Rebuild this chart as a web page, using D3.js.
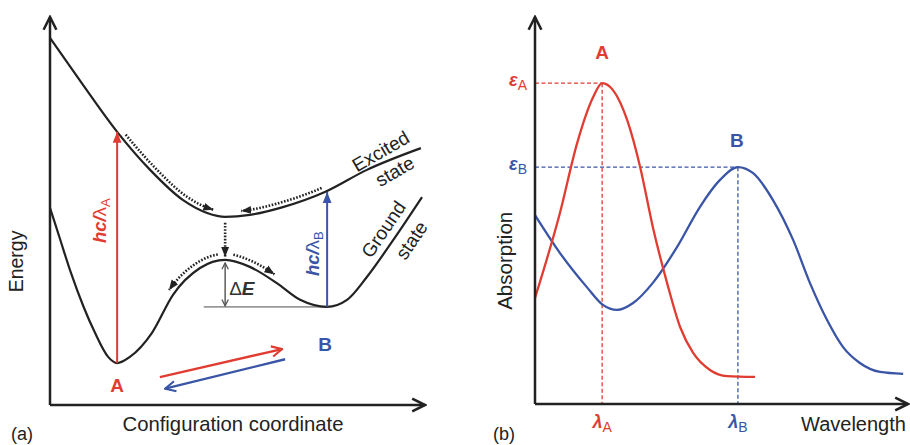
<!DOCTYPE html>
<html>
<head>
<meta charset="utf-8">
<script src="https://cdn.jsdelivr.net/npm/d3@7"></script>
<style>
  body { margin: 0; background: #fff; }
  svg { display: block; font-family: "Liberation Sans", Arial, sans-serif; }
</style>
</head>
<body>
<div id="chart"></div>
<script>
// panel (a): configuration coordinate (x) vs energy (y), arbitrary 0-10 units
const excitedX = [0, 0.88, 1.79, 2.67, 3.55, 4.19, 4.67, 5.33, 6.21, 7.33, 8.45, 9.89];
const excitedY = [9.46, 8.25, 7.04, 6.06, 5.28, 4.95, 4.85, 4.90, 5.10, 5.49, 6.06, 6.62];
const groundX = [0, 0.25, 0.55, 0.9, 1.2, 1.55, 1.79, 2.13, 2.72, 3.28, 4.0, 4.67, 5.33, 6.05, 6.67, 7.39, 7.92, 8.45, 9.15, 9.92];
const groundY = [5.08, 4.33, 3.43, 2.52, 1.86, 1.24, 1.08, 1.24, 1.86, 2.84, 3.53, 3.74, 3.56, 3.14, 2.71, 2.53, 2.71, 3.30, 4.25, 5.36];
// well minima / barrier top
const minA = {x: 1.79, y: 1.08, top: 7.04};
const minB = {x: 7.39, y: 2.53, top: 5.49};
const barrier = {x: 4.67, y: 3.74, excited: 4.85, baseStart: 4.1};

// panel (b): wavelength (x) vs absorption (y), arbitrary 0-10 units
const bandAX = [0, 0.67, 1.13, 1.56, 1.80, 2.09, 2.47, 2.82, 3.16, 3.54, 3.89, 4.24, 4.69, 5.15, 5.90];
const bandAY = [2.74, 4.94, 6.74, 7.93, 8.29, 8.11, 7.34, 6.12, 4.57, 3.13, 1.99, 1.32, 0.88, 0.72, 0.70];
const bandBX = [0, 0.67, 1.39, 1.82, 2.20, 2.63, 3.16, 3.81, 4.42, 4.96, 5.44, 5.84, 6.38, 6.92, 7.37, 7.83, 8.26, 8.71, 9.25, 9.87];
const bandBY = [4.88, 3.90, 3.02, 2.56, 2.43, 2.61, 3.13, 4.06, 5.09, 5.79, 6.12, 5.97, 5.27, 4.24, 3.13, 2.17, 1.47, 1.06, 0.83, 0.78];
const peakA = {x: 1.80, y: 8.29};
const peakB = {x: 5.44, y: 6.12};

const RED = "#e03c31";
const BLUE = "#3a55a6";
const INK = "#222";

const svg = d3.select("#chart").append("svg")
  .attr("width", 910).attr("height", 445);
svg.append("rect").attr("width", 910).attr("height", 445).attr("fill", "#fff");

const defs = svg.append("defs");
function marker(id, color, size, open) {
  const m = defs.append("marker").attr("id", id)
    .attr("viewBox", "0 0 10 10").attr("refX", open ? 9 : 10).attr("refY", 5)
    .attr("markerWidth", size).attr("markerHeight", size)
    .attr("markerUnits", "userSpaceOnUse")
    .attr("orient", "auto-start-reverse");
  if (open) {
    m.append("path").attr("d", "M1,1L9,5L1,9").attr("fill", "none")
      .attr("stroke", color).attr("stroke-width", 1.6).attr("stroke-linejoin", "miter");
  } else {
    m.append("path").attr("d", "M0,1L10,5L0,9z").attr("fill", color);
  }
}
marker("axisHead", INK, 16, true);
marker("redHead", RED, 11, false);
marker("blueHead", BLUE, 11, false);
marker("redChev", RED, 13, true);
marker("blueChev", BLUE, 13, true);
marker("dotHead", INK, 10, false);
marker("grayHead", "#555", 8, true);

const zip = (xs, ys) => xs.map((x, i) => [x, ys[i]]);

// ---------- panel (a) ----------
const xa = d3.scaleLinear().domain([0, 10]).range([50, 425]);
const ya = d3.scaleLinear().domain([0, 10]).range([405, 17]);
const lineA = d3.line().x(d => xa(d[0])).y(d => ya(d[1])).curve(d3.curveMonotoneX);

const ga = svg.append("g");

// axes
ga.append("path").attr("d", `M${xa(0)},${ya(0)}V${ya(10)}`)
  .attr("stroke", INK).attr("stroke-width", 2.5).attr("fill", "none").attr("marker-end", "url(#axisHead)");
ga.append("path").attr("d", `M${xa(0)},${ya(0)}H${xa(10)}`)
  .attr("stroke", INK).attr("stroke-width", 2.5).attr("fill", "none").attr("marker-end", "url(#axisHead)");

// baseline at B minimum
ga.append("line").attr("x1", xa(barrier.baseStart)).attr("x2", xa(minB.x))
  .attr("y1", ya(minB.y)).attr("y2", ya(minB.y))
  .attr("stroke", "#999").attr("stroke-width", 1.8);

const excitedPath = ga.append("path").attr("d", lineA(zip(excitedX, excitedY)))
  .attr("fill", "none").attr("stroke", INK).attr("stroke-width", 2.2);
const groundPath = ga.append("path").attr("d", lineA(zip(groundX, groundY)))
  .attr("fill", "none").attr("stroke", INK).attr("stroke-width", 2.2);

// points along a drawn curve, pushed off it by `off` px on the upper side
function alongCurve(node, x0, x1, off) {
  const L = node.getTotalLength();
  const raw = [];
  for (let s = 0; s <= L; s += 1.5) raw.push(node.getPointAtLength(s));
  const lo = Math.min(x0, x1), hi = Math.max(x0, x1);
  const pts = [];
  for (let i = 1; i < raw.length - 1; i++) {
    const p = raw[i];
    if (p.x < lo || p.x > hi) continue;
    let dx = raw[i + 1].x - raw[i - 1].x, dy = raw[i + 1].y - raw[i - 1].y;
    const n = Math.hypot(dx, dy) || 1;
    let nx = dy / n, ny = -dx / n;
    if (ny > 0) { nx = -nx; ny = -ny; }
    pts.push([p.x + nx * off, p.y + ny * off]);
  }
  if (x0 > x1) pts.reverse();
  return pts;
}
const plain = d3.line().curve(d3.curveLinear);
function dotted(points) {
  ga.append("path").attr("d", plain(points)).attr("fill", "none")
    .attr("stroke", INK).attr("stroke-width", 2.6).attr("stroke-dasharray", "1.6,1.6")
    .attr("marker-end", "url(#dotHead)");
}
dotted(alongCurve(excitedPath.node(), xa(1.9), xa(4.35), 5));
dotted(alongCurve(excitedPath.node(), xa(7.33), xa(5.1), 5));
dotted([[xa(barrier.x), ya(barrier.excited) + 6], [xa(barrier.x), ya(barrier.y) - 3]]);
dotted(alongCurve(groundPath.node(), xa(4.5), xa(3.3), 6));
dotted(alongCurve(groundPath.node(), xa(4.85), xa(5.9), 6));

// ΔE
ga.append("line").attr("x1", xa(barrier.x)).attr("x2", xa(barrier.x))
  .attr("y1", ya(barrier.y) + 3).attr("y2", ya(minB.y) - 1)
  .attr("stroke", "#444").attr("stroke-width", 1.3)
  .attr("marker-start", "url(#grayHead)").attr("marker-end", "url(#grayHead)");
const dE = ga.append("text").attr("x", xa(barrier.x) + 4).attr("y", ya(3.0) + 6)
  .attr("font-size", 19).attr("fill", "#333");
dE.append("tspan").text("Δ");
dE.append("tspan").attr("font-weight", "bold").attr("font-style", "italic").text("E");

// vertical excitation arrows
ga.append("line").attr("x1", xa(minA.x)).attr("x2", xa(minA.x))
  .attr("y1", ya(minA.y)).attr("y2", ya(minA.top))
  .attr("stroke", RED).attr("stroke-width", 2).attr("marker-end", "url(#redHead)");
ga.append("line").attr("x1", xa(minB.x)).attr("x2", xa(minB.x))
  .attr("y1", ya(minB.y)).attr("y2", ya(minB.top))
  .attr("stroke", BLUE).attr("stroke-width", 2).attr("marker-end", "url(#blueHead)");

function hcLabel(x, y, color, sub) {
  const t = ga.append("text").attr("transform", `translate(${x},${y}) rotate(-90)`)
    .attr("text-anchor", "middle").attr("fill", color).attr("font-size", 18.5);
  t.append("tspan").attr("font-weight", "bold").attr("font-style", "italic").text("hc/");
  t.append("tspan").text("λ");
  t.append("tspan").attr("font-size", 13).attr("dy", 4).text(sub);
}
hcLabel(xa(minA.x) - 11, ya(4.75), RED, "A");
hcLabel(xa(minB.x) - 8, ya(3.9), BLUE, "B");

// conversion arrows A <-> B
ga.append("line").attr("x1", xa(2.93)).attr("y1", ya(0.72)).attr("x2", xa(6.19)).attr("y2", ya(1.44))
  .attr("stroke", RED).attr("stroke-width", 2.4).attr("marker-end", "url(#redChev)");
ga.append("line").attr("x1", xa(6.27)).attr("y1", ya(1.18)).attr("x2", xa(3.07)).attr("y2", ya(0.42))
  .attr("stroke", BLUE).attr("stroke-width", 2.4).attr("marker-end", "url(#blueChev)");

ga.append("text").attr("x", xa(minA.x)).attr("y", ya(minA.y) + 29).attr("text-anchor", "middle")
  .attr("fill", RED).attr("font-weight", "bold").attr("font-size", 19).text("A");
ga.append("text").attr("x", xa(minB.x) - 2).attr("y", ya(minB.y) + 44).attr("text-anchor", "middle")
  .attr("fill", BLUE).attr("font-weight", "bold").attr("font-size", 19).text("B");

function rotLabel(x, y, ang, txt) {
  ga.append("text").attr("transform", `translate(${x},${y}) rotate(${ang})`)
    .attr("text-anchor", "middle").attr("fill", INK).attr("font-size", 19).text(txt);
}
rotLabel(384, 157, -30, "Excited");
rotLabel(398, 177, -30, "state");
rotLabel(389, 233, -56, "Ground");
rotLabel(417, 244, -56, "state");

ga.append("text").attr("transform", `translate(23,${ya(3.7)}) rotate(-90)`)
  .attr("text-anchor", "middle").attr("fill", INK).attr("font-size", 19.5).text("Energy");
ga.append("text").attr("x", 233).attr("y", 431).attr("text-anchor", "middle")
  .attr("fill", INK).attr("font-size", 20.3).text("Configuration coordinate");
ga.append("text").attr("x", 11).attr("y", 440).attr("fill", INK).attr("font-size", 18).text("(a)");

// ---------- panel (b) ----------
const xb = d3.scaleLinear().domain([0, 10]).range([535, 908]);
const yb = d3.scaleLinear().domain([0, 10]).range([404, 17]);
const lineB = d3.line().x(d => xb(d[0])).y(d => yb(d[1])).curve(d3.curveMonotoneX);
const gb = svg.append("g");

// guide lines to peaks
function guides(p, color) {
  gb.append("path").attr("d", `M${xb(0)},${yb(p.y)}H${xb(p.x)}M${xb(p.x)},${yb(p.y)}V${yb(0)}`)
    .attr("fill", "none").attr("stroke", color).attr("stroke-width", 1.3).attr("stroke-dasharray", "4,2.5");
}
guides(peakA, RED);
guides(peakB, BLUE);

gb.append("path").attr("d", lineB(zip(bandBX, bandBY)))
  .attr("fill", "none").attr("stroke", BLUE).attr("stroke-width", 2.3);
gb.append("path").attr("d", lineB(zip(bandAX, bandAY)))
  .attr("fill", "none").attr("stroke", RED).attr("stroke-width", 2.3);

gb.append("path").attr("d", `M${xb(0)},${yb(0)}V${yb(10)}`)
  .attr("stroke", INK).attr("stroke-width", 2.5).attr("fill", "none").attr("marker-end", "url(#axisHead)");
gb.append("path").attr("d", `M${xb(0)},${yb(0)}H${xb(10)}`)
  .attr("stroke", INK).attr("stroke-width", 2.5).attr("fill", "none").attr("marker-end", "url(#axisHead)");

gb.append("text").attr("x", xb(peakA.x)).attr("y", yb(peakA.y) - 24).attr("text-anchor", "middle")
  .attr("fill", RED).attr("font-weight", "bold").attr("font-size", 19).text("A");
gb.append("text").attr("x", xb(peakB.x) - 1).attr("y", yb(peakB.y) - 20).attr("text-anchor", "middle")
  .attr("fill", BLUE).attr("font-weight", "bold").attr("font-size", 19).text("B");

function symLabel(x, y, anchor, color, sym, sub) {
  const t = gb.append("text").attr("x", x).attr("y", y).attr("text-anchor", anchor)
    .attr("fill", color).attr("font-size", 18);
  t.append("tspan").attr("font-style", "italic").attr("font-weight", "bold").text(sym);
  t.append("tspan").attr("font-size", 14).attr("dy", 4).text(sub);
}
symLabel(xb(0) - 8, yb(peakA.y) + 3, "end", RED, "ε", "A");
symLabel(xb(0) - 8, yb(peakB.y) + 3, "end", BLUE, "ε", "B");
symLabel(xb(peakA.x), yb(0) + 24, "middle", RED, "λ", "A");
symLabel(xb(peakB.x), yb(0) + 24, "middle", BLUE, "λ", "B");

gb.append("text").attr("transform", `translate(512,${yb(3.7)}) rotate(-90)`)
  .attr("text-anchor", "middle").attr("fill", INK).attr("font-size", 20.5).text("Absorption");
gb.append("text").attr("x", 801).attr("y", 431).attr("fill", INK).attr("font-size", 20).text("Wavelength");
gb.append("text").attr("x", 493).attr("y", 440).attr("fill", INK).attr("font-size", 18).text("(b)");
</script>
</body>
</html>
